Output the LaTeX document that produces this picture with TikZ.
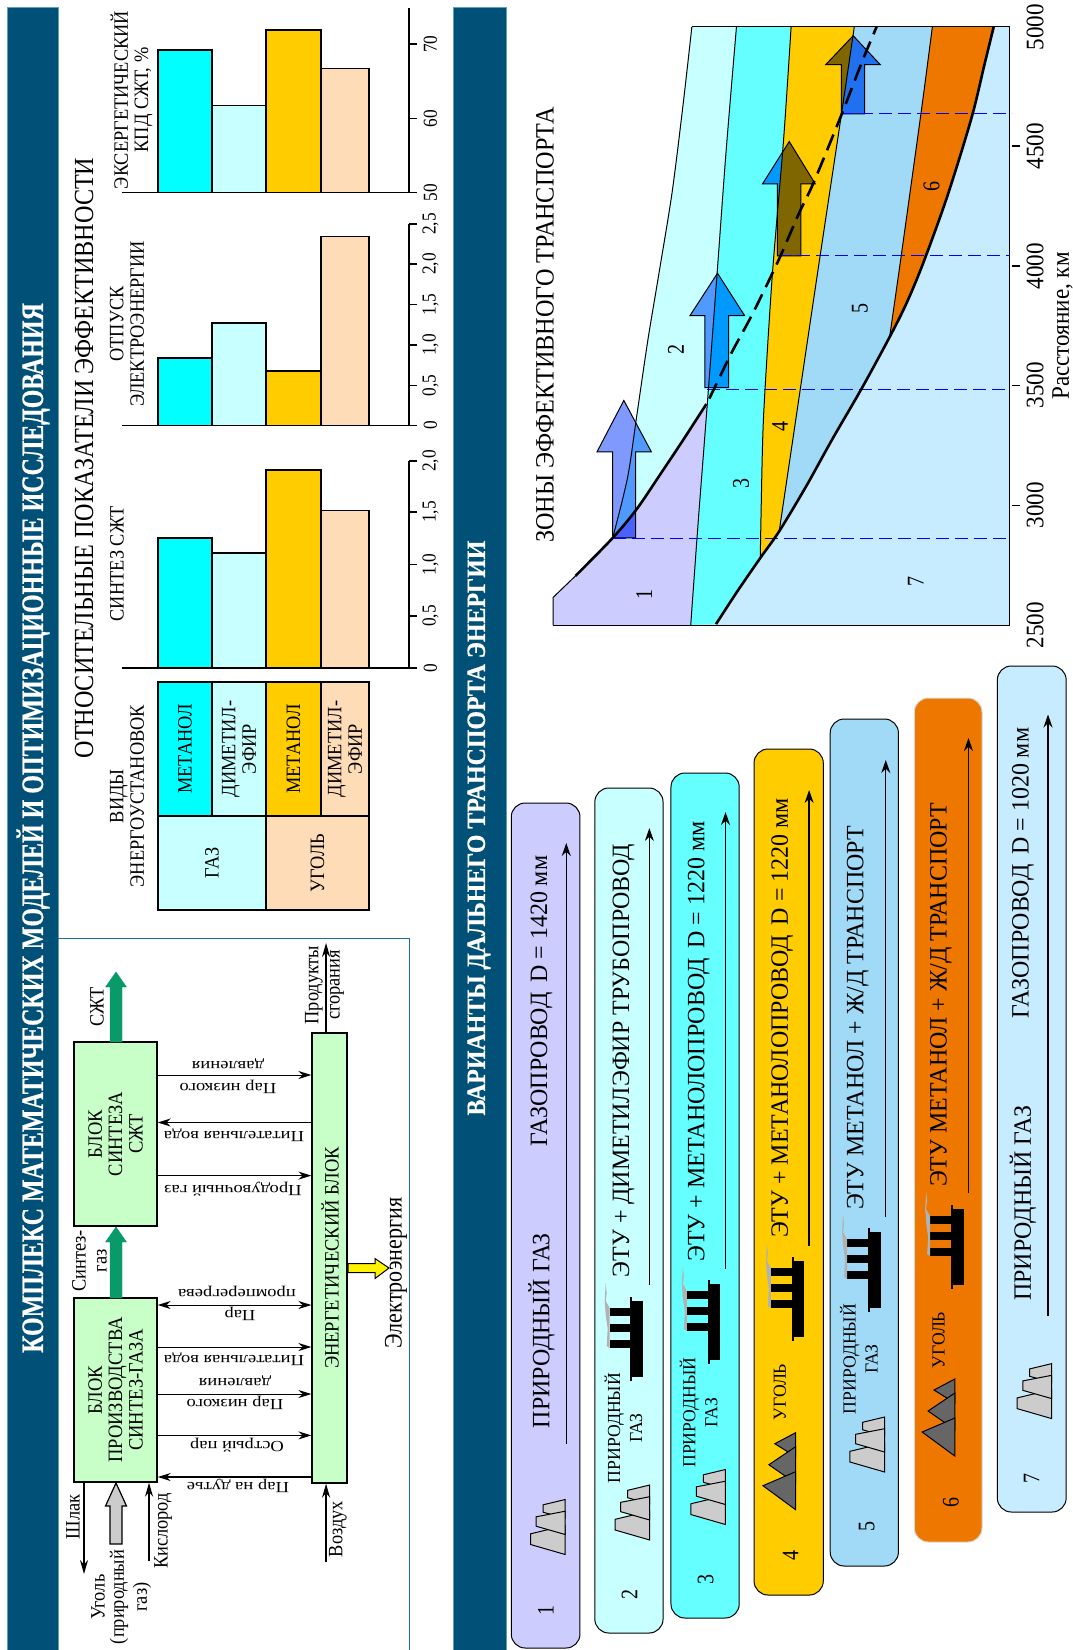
\documentclass[tikz,border=0pt]{standalone}
\usepackage{fontspec}
\setmainfont{Liberation Serif}
\newfontfamily\titlefont{Liberation Serif}[FakeBold=0.7]
\usetikzlibrary{arrows.meta}
\newcommand\fz[1]{\fontsize{#1}{#1}\selectfont}
\definecolor{band}{HTML}{005078}
\definecolor{bandedge}{HTML}{5F9DBD}
\definecolor{frameln}{HTML}{1F6F93}
\definecolor{blockg}{HTML}{C8FFC8}
\definecolor{arrowg}{HTML}{0A9A6A}
\definecolor{lav}{HTML}{CCCCFF}
\definecolor{pcyan}{HTML}{C8FFFF}
\definecolor{mcyan}{HTML}{66FFFF}
\definecolor{fcyan}{HTML}{00FFFF}
\definecolor{gold}{HTML}{FFCC00}
\definecolor{peach}{HTML}{FFDCB8}
\definecolor{sky}{HTML}{A0DAF6}
\definecolor{oran}{HTML}{EE7700}
\definecolor{pale}{HTML}{C8ECFF}
\tikzset{
  vt/.style={rotate=90,inner sep=0pt,align=center,text=black},
  ht/.style={rotate=180,inner sep=0pt,align=center,text=black},
  bl/.style={vt,draw=black,line width=1.3pt,fill=blockg},
  cell/.style={vt,draw=black,line width=1.2pt},
  con/.style={line width=1pt,-{Stealth[length=13pt,width=8pt]}},
  conn/.style={line width=1.3pt,-{Stealth[length=14pt,width=8pt]}},
  pill/.style={line width=1pt,draw=black,rounded corners=14pt},
  thin/.style={line width=1pt,draw=black},
  barr/.style={line width=1pt,draw=black},
  blued/.style={line width=1.3pt,draw=blue,dash pattern=on 13pt off 6pt},
  ga/.style={fill=black!20,draw=black,line width=1pt,line join=miter},
  coalt/.style={fill=black!60,draw=black,line width=1pt},
  axs/.style={line width=1.2pt,draw=black},
}
% small pictures
\newcommand\gasicon[2]{%
  \begin{scope}[shift={(#1,#2)}]
  \filldraw[ga] (0,0)--(-22.3,5.3)--(-22.3,12.7)--(0,19)--cycle;
  \filldraw[ga] (0,26)--(-35,34.3)--(-35,45)--(0,55)--cycle;
  \filldraw[ga] (0,11.7)--(-29.3,17.3)--(-29.3,26.7)--(0,35)--cycle;
  \end{scope}}
\newcommand\coalicon[2]{%
  \begin{scope}[shift={(#1,#2)}]
  \filldraw[coalt] (0,0)--(-21,11)--(0,24)--cycle;
  \filldraw[coalt] (0,14)--(-27,32)--(0,50.6)--cycle;
  \filldraw[coalt] (0,39)--(-33,53)--(0,77)--cycle;
  \end{scope}}
\newcommand\planticon[2]{%
  \begin{scope}[shift={(#1,#2)}]
  \fill[black] (0,0) rectangle (13,76);
  \fill[black] (0,-4) rectangle (2,80);
  \fill[black] (-21,7) rectangle (0,15);
  \fill[black] (-21,23) rectangle (0,31);
  \fill[black] (-21,39) rectangle (0,47);
  \fill[black!30] (-25,-18)--(-24,-8)--(-25,0)--(-21,7)--(-21,47)--(-24,45)--(-23,28)--(-25,14)--(-26,0)--cycle;
  \end{scope}}
\def\rSeven{(170,1400)--(170,1338)--(230,1290)--(330,1205)--(395,1140)--(460,1060)--(520,985)--(585,900)--(650,790)--(705,705)--(775,585)--(830,480)--(870,410)--(945,258)--(1000,140)--(1030,60)--(1398,60)--(1398,1400)--cycle}
\def\rOne{(170,1400)--(170,1338)--(230,1290)--(330,1205)--(395,1140)--(460,1060)--(520,985)--(585,900)--(560,1170)--(540,1400)--cycle}
\def\rTwo{(543,60)--(520,230)--(490,430)--(455,610)--(425,760)--(395,930)--(370,1070)--(330,1205)--(395,1140)--(460,1060)--(520,985)--(585,900)--(612,600)--(635,340)--(663,60)--cycle}
\def\rThree{(540,1400)--(560,1170)--(585,900)--(612,600)--(635,340)--(663,60)--(810,60)--(790,310)--(760,610)--(740,870)--(733,1000)--(727,1250)--(665,1325)--(608,1398)--cycle}
\def\rFour{(810,60)--(790,310)--(760,610)--(740,870)--(733,1000)--(727,1250)--(778,1190)--(835,870)--(885,590)--(945,258)--(980,60)--cycle}
\def\rFive{(980,60)--(945,258)--(885,590)--(835,870)--(778,1190)--(850,1090)--(920,985)--(1000,870)--(1075,755)--(1105,580)--(1160,250)--(1190,60)--cycle}
\def\rSix{(1190,60)--(1160,250)--(1105,580)--(1075,755)--(1120,680)--(1165,590)--(1230,440)--(1295,265)--(1330,145)--(1355,60)--cycle}
\def\arrA{(330,1205)--(330,1012)--(288,1012)--(360,897)--(434,1012)--(392,1012)--(392,1205)--cycle}
\def\arrB{(578,868)--(578,707)--(538,707)--(612,612)--(685,707)--(642,707)--(642,868)--cycle}
\def\arrC{(773,573)--(773,412)--(733,412)--(805,317)--(875,412)--(836,412)--(836,573)--cycle}
\def\arrD{(945,255)--(945,145)--(903,145)--(977,80)--(1050,145)--(1008,145)--(1008,255)--cycle}
\begin{document}
\begin{tikzpicture}[x=0.83333pt,y=-1pt,xscale=1.2,transform shape]
\useasboundingbox (0,0) rectangle (1073,1650);
\fill[white] (0,0) rectangle (1073,1650);
% bands
\filldraw[fill=band,draw=bandedge,line width=.8pt] (7,7) rectangle (58,1650);
\filldraw[fill=band,draw=bandedge,line width=.8pt] (453,7) rectangle (506,1650);
\node[vt,text=white,xscale=.923,font=\titlefont\fz{26}\bfseries] (title1) at (33,828) {КОМПЛЕКС МАТЕМАТИЧЕСКИХ МОДЕЛЕЙ И ОПТИМИЗАЦИОННЫЕ ИССЛЕДОВАНИЯ};
\node[vt,text=white,xscale=1.085,font=\titlefont\fz{22}\bfseries] (title2) at (479,828) {ВАРИАНТЫ ДАЛЬНЕГО ТРАНСПОРТА ЭНЕРГИИ};
% block diagram frame
\draw[frameln,line width=1pt] (58,938) -- (409,938) -- (409,1650);
\node[bl,minimum width=184pt,minimum height=69pt] (syn) at (115.5,1134) {};
\node[bl,minimum width=184pt,minimum height=69pt] (prod) at (115.5,1390) {};
\node[bl,minimum width=450pt,minimum height=29pt] (en) at (329.5,1258) {};
\tikzset{blt/.style={vt,xscale=1.09,font=\fz{17}}}
\node[blt] (synt) at (115.5,1134) {БЛОК\\СИНТЕЗА\\СЖТ};
\node[blt] (prodt) at (115.5,1390) {БЛОК\\ПРОИЗВОДСТВА\\СИНТЕЗ-ГАЗА};
\node[blt] (ent) at (330,1258) {ЭНЕРГЕТИЧЕСКИЙ БЛОК};
% green arrows
\coordinate (sjt) at (116,972);
\filldraw[arrowg] (110,1042)--(110,987)--(105.5,987)--(sjt)--(126.5,987)--(122,987)--(122,1042)--cycle;
\filldraw[arrowg] (110,1298)--(110,1242)--(105.5,1242)--(116,1227)--(126.5,1242)--(122,1242)--(122,1298)--cycle;
\filldraw[fill=black!20,draw=black,line width=1.2pt] (110,1544)--(110,1506)--(105.5,1506)--(116,1483)--(126.5,1506)--(122,1506)--(122,1544)--cycle;
\filldraw[fill=yellow,draw=black,line width=1pt] (348,1263.5)--(375,1263.5)--(375,1258.5)--(389,1268)--(375,1278.5)--(375,1272.5)--(348,1272.5)--cycle;
% connectors
\draw[con] (syn.south |- 0,1075) -- (en.north |- 0,1075);
\draw[con] (en.north |- 0,1122.5) -- (syn.south |- 0,1122.5);
\draw[con] (syn.south |- 0,1175.6) -- (en.north |- 0,1175.6);
\draw[line width=1pt,{Stealth[length=13pt,width=8pt]}-{Stealth[length=13pt,width=8pt]}] (prod.south |- 0,1305) -- (en.north |- 0,1305);
\draw[con] (prod.south |- 0,1347) -- (en.north |- 0,1347);
\draw[con] (prod.south |- 0,1394) -- (en.north |- 0,1394);
\draw[con] (prod.south |- 0,1435.4) -- (en.north |- 0,1435.4);
\draw[line width=1.3pt,-{Stealth[length=13pt,width=8pt]}] (en.north |- 0,1477) -- (prod.south |- 0,1477);
\coordinate (prodout) at (326,943);
\coordinate (airin) at (326,1562);
\coordinate (slagout) at (84,1574);
\coordinate (o2in) at (149,1561);
\draw[conn] (en.east -| prodout) -- (prodout);
\draw[conn] (airin) -- (en.west -| airin);
\draw[conn] (prod.west -| slagout) -- (slagout);
\draw[conn] (o2in) -- (prod.west -| o2in);
% block labels
\tikzset{lab/.style={ht,font=\fz{15.5}}}
\node[lab] (l1) at (228,1087) {Пар низкого};
\node[lab] (l1b) at (228,1064) {давления};
\node[lab] (l2) at (234,1135.5) {Питательная вода};
\node[lab] (l3) at (233,1189) {Продувочный газ};
\node[lab] (l4) at (240,1314) {Пар};
\node[lab] (l4b) at (237,1291.5) {промперегрева};
\node[lab] (l5) at (234,1359) {Питательная вода};
\node[lab] (l6) at (235,1403) {Пар низкого};
\node[lab] (l6b) at (235,1381) {давления};
\node[lab] (l7) at (237,1445) {Острый пар};
\node[lab] (l8) at (238,1486) {Пар на дутье};
\tikzset{vl/.style={vt,xscale=1.08,font=\fz{17}}}
\node[vt,xscale=1.05,font=\fz{21}] (el) at (396,1273) {Электроэнергия};
\node[vl] (pr1) at (314,985) {Продукты};
\node[vl] (pr2) at (337,985) {сгорания};
\node[vl] (air) at (338,1529) {Воздух};
\node[vl] (sl) at (73,1517) {Шлак};
\node[vl] (ox) at (163,1531) {Кислород};
\node[vl] (co1) at (98,1597) {Уголь};
\node[vl] (co2) at (119,1597) {(природный};
\node[vl] (co3) at (142,1597) {газ)};
\node[vl] (sg1) at (79,1261) {Синтез-};
\node[vl] (sg2) at (102,1261) {газ};
\node[vl] (sj) at (97,1007) {СЖТ};
% efficiency section
\node[vt,xscale=1.05,font=\fz{23}] (effh) at (84,458) {ОТНОСИТЕЛЬНЫЕ ПОКАЗАТЕЛИ ЭФФЕКТИВНОСТИ};
\node[vl] (kinds) at (127,796) {ВИДЫ\\ЭНЕРГОУСТАНОВОК};
\node[vl] (ch1) at (117,564) {СИНТЕЗ СЖТ};
\node[vl] (ch2) at (127,324) {ОТПУСК\\ЭЛЕКТРОЭНЕРГИИ};
\node[vl] (ch3) at (131.5,100) {ЭКСЕРГЕТИЧЕСКИЙ\\КПД СЖТ, \%};
% table
\tikzset{tab/.style={cell}}
\node[tab,fill=pcyan,minimum width=94pt,minimum height=90pt] (g) at (212,863) {};
\node[tab,fill=peach,minimum width=94pt,minimum height=85.83pt] (c) at (317.5,863) {};
\node[tab,fill=fcyan,minimum width=134pt,minimum height=45pt] (t1) at (185,749) {};
\node[tab,fill=pcyan,minimum width=134pt,minimum height=45pt] (t2) at (239,749) {};
\node[tab,fill=gold,minimum width=134pt,minimum height=45.83pt] (t3) at (293.5,749) {};
\node[tab,fill=peach,minimum width=134pt,minimum height=40pt] (t4) at (345,749) {};
\node[vl] (gt) at (212,863) {ГАЗ};
\node[vl] (ct) at (317.5,863) {УГОЛЬ};
\node[vl] (t1t) at (185,749) {МЕТАНОЛ};
\node[vl] (t2t) at (239,749) {ДИМЕТИЛ-\\ЭФИР};
\node[vl] (t3t) at (293.5,749) {МЕТАНОЛ};
\node[vl] (t4t) at (345,749) {ДИМЕТИЛ-\\ЭФИР};
% bars
\newcommand\bars[5]{%
  \filldraw[fill=fcyan,axs] (158,#1) rectangle (212,#2);
  \filldraw[fill=pcyan,axs] (212,#1) rectangle (266,#3);
  \filldraw[fill=gold,axs] (266,#1) rectangle (321,#4);
  \filldraw[fill=peach,axs] (321,#1) rectangle (369,#5);}
\bars{668}{538}{553}{470}{510.5}
\bars{425.5}{358}{323}{371}{236.5}
\bars{192.5}{50}{105.6}{30}{68.7}
\draw[axs] (122,668)--(409,668)--(409,461);
\draw[axs] (122,425.5)--(409,425.5)--(409,224);
\draw[axs] (122,192.5)--(409,192.5)--(409,8);
\tikzset{tk/.style={vt,xscale=1.05,font=\fz{16.5}}}
\foreach \yy/\ll [count=\ti] in {668/0,616/{0,5},564.5/{1,0},512/{1,5},461/{2,0},
                     425.5/0,385.5/{0,5},345/{1,0},304.6/{1,5},264/{2,0},224/{2,5},
                     192.5/50,118.5/60,44/70}{
  \draw[axs] (409,\yy) -- (417,\yy);
  \node[tk] (tick\ti) at (430.5,\yy) {\ll};
}
% zones chart
\begin{scope}[shift={(490,0)},x=0.30979pt,y=-0.44643pt]
\fill[pale] \rSeven;
\fill[lav] \rOne;
\fill[pcyan] \rTwo;
\fill[mcyan] \rThree;
\fill[gold] \rFour;
\fill[sky] \rFive;
\fill[oran] \rSix;
\draw[thin] (543,60)--(1398,60)--(1398,1400)--(170,1400);
% block arrows
\fill[fill={rgb,255:red,128;green,153;blue,255}] \arrA;
\begin{scope}\clip \rTwo; \fill[fill={rgb,255:red,80;green,153;blue,255}] \arrA; \end{scope}
\begin{scope}\clip \rOne; \fill[fill={rgb,255:red,74;green,96;blue,255}] \arrA; \end{scope}
\fill[fill={rgb,255:red,80;green,153;blue,255}] \arrB;
\begin{scope}\clip \rThree; \fill[fill={rgb,255:red,0;green,153;blue,255}] \arrB; \end{scope}
\fill[fill={rgb,255:red,0;green,153;blue,255}] \arrC;
\begin{scope}\clip \rFour; \fill[fill={rgb,255:red,128;green,102;blue,0}] \arrC; \end{scope}
\fill[fill={rgb,255:red,128;green,102;blue,0}] \arrD;
\begin{scope}\clip \rFive; \fill[fill={rgb,255:red,32;green,112;blue,240}] \arrD; \end{scope}
% thin boundaries
\draw[thin] (170,1400)--(170,1338)--(230,1290);
\draw[thin] plot[smooth] coordinates {(543,60)(520,230)(490,430)(455,610)(425,760)(395,930)(370,1070)(330,1205)};
\draw[thin] plot[smooth] coordinates {(540,1400)(560,1170)(585,900)(612,600)(635,340)(663,60)};
\draw[thin] plot[smooth] coordinates {(727,1250)(733,1000)(740,870)(760,610)(790,310)(810,60)};
\draw[thin] plot[smooth] coordinates {(778,1190)(835,870)(885,590)(945,258)(980,60)};
\draw[thin] plot[smooth] coordinates {(1075,755)(1105,580)(1160,250)(1190,60)};
\draw[barr] \arrA; \draw[barr] \arrB; \draw[barr] \arrC; \draw[barr] \arrD;
% blue dashed
\draw[blued] (330,1207)--(1398,1207);
\draw[blued] (585,872)--(1398,872);
\draw[blued] (775,573)--(1398,573);
\draw[blued] (945,255)--(1405,255);
% thick curves
\draw[line width=2.6pt] plot[smooth] coordinates {(230,1290)(330,1205)(395,1140)(460,1060)(520,985)(582,905)};
\draw[line width=2.6pt,dash pattern=on 17pt off 8pt] plot[smooth] coordinates {(590,893)(650,790)(705,705)(775,585)(830,480)(870,410)(945,258)(1000,140)(1040,60)};
\draw[line width=2.6pt] plot[smooth] coordinates {(608,1398)(665,1325)(727,1250)(778,1190)(850,1090)(920,985)(1000,870)(1075,755)(1120,680)(1165,590)(1230,440)(1295,265)(1330,145)(1355,60)};
% numbers
\tikzset{zn/.style={vt,font=\fz{20}}}
\node[zn] (z1) at (415,1332) {1};
\node[zn] (z2) at (500,782) {2};
\node[zn] (z3) at (675,1082) {3};
\node[zn] (z4) at (780,955) {4};
\node[zn] (z5) at (995,690) {5};
\node[zn] (z6) at (1188,418) {6};
\node[zn] (z7) at (1145,1302) {7};
\foreach \zy in {1132,863,596,327}{\draw[axs] (1405,\zy)--(1425,\zy);}
\end{scope}
\node[vt,xscale=1.1,font=\fz{22}] (zt) at (545,325) {ЗОНЫ ЭФФЕКТИВНОГО ТРАНСПОРТА};
\tikzset{ax/.style={vt,xscale=1.1,font=\fz{21}}}
\node[ax] (a1) at (1035,625) {2500};
\node[ax] (a2) at (1035,505) {3000};
\node[ax] (a3) at (1035,385) {3500};
\node[ax] (a4) at (1035,266) {4000};
\node[ax] (a5) at (1035,146) {4500};
\node[ax] (a6) at (1035,27) {5000};
\node[ax] (dist) at (1062.5,326) {Расстояние, км};
% pills and their contents
\begin{scope}[shift={(5.39,0)},xscale=.989]
\filldraw[pill,fill=lav] (511.5,803) rectangle (581,1648);
\filldraw[pill,fill=pcyan] (596,788) rectangle (665,1633);
\filldraw[pill,fill=mcyan] (673,773) rectangle (742,1618);
\filldraw[pill,fill=gold] (757,749) rectangle (827,1595);
\filldraw[pill,fill=sky] (834,719) rectangle (903,1566);
\filldraw[pill,fill=oran,draw=black!15] (919,698) rectangle (987.5,1542);
\filldraw[pill,fill=pale] (1003,666) rectangle (1072.6,1512);
% pill arrows
\foreach \xx/\ya/\yb [count=\pi] in {567/1444/843,651/1285/828,728/1269/812,812.5/1246/790,890/1217/760,973.6/1193/738,1054/1316/714.5}{
  \coordinate (pa\pi) at (\xx,\ya);
  \coordinate (pb\pi) at (\xx,\yb);
  \draw[line width=1.3pt,-{Stealth[length=13pt,width=9pt]}] (pa\pi) -- (pb\pi);
}
% icons
\gasicon{566}{1499.5}
\gasicon{651.5}{1485}
\gasicon{728}{1469.5}
\gasicon{889}{1417}
\gasicon{1058}{1363.6}
\coalicon{799}{1432.7}
\coalicon{960}{1379}
\planticon{632}{1301}
\planticon{710}{1284}
\planticon{795}{1261}
\planticon{872}{1232}
\planticon{956}{1209}
% pill text
\tikzset{pt/.style={vt,xscale=1.14,font=\fz{21}},ps/.style={vt,xscale=1.14,font=\fz{15.5}},pn/.style={vt,font=\fz{20}}}
\node[pt] (p1a) at (542,1330.6) {ПРИРОДНЫЙ ГАЗ};
\node[pt] (p1b) at (542,1001) {ГАЗОПРОВОД\, D = 1420 мм};
\node[pt] (p2b) at (625,1060.5) {ЭТУ + ДИМЕТИЛЭФИР ТРУБОПРОВОД};
\node[ps] (p2a) at (625,1428) {ПРИРОДНЫЙ\\[3pt]ГАЗ};
\node[pt] (p3b) at (701,1041.5) {ЭТУ + МЕТАНОЛОПРОВОД\, D = 1220 мм};
\node[ps] (p3a) at (701,1412.6) {ПРИРОДНЫЙ\\[3pt]ГАЗ};
\node[pt] (p4b) at (785.4,1018) {ЭТУ + МЕТАНОЛОПРОВОД\, D = 1220 мм};
\node[ps] (p4a) at (783,1392) {УГОЛЬ};
\node[pt] (p5b) at (862,1018) {ЭТУ МЕТАНОЛ + Ж/Д ТРАНСПОРТ};
\node[ps] (p5a) at (863,1359) {ПРИРОДНЫЙ\\[3pt]ГАЗ};
\node[pt] (p6b) at (946,995) {ЭТУ МЕТАНОЛ + Ж/Д ТРАНСПОРТ};
\node[ps] (p6a) at (943.5,1340) {УГОЛЬ};
\node[pt] (p7a) at (1029,1203) {ПРИРОДНЫЙ ГАЗ};
\node[pt] (p7b) at (1029,873) {ГАЗОПРОВОД\, D = 1020 мм};
\node[pn] (n1) at (546.5,1610) {1};
\node[pn] (n2) at (631,1594.5) {2};
\node[pn] (n3) at (708,1579) {3};
\node[pn] (n4) at (794,1555) {4};
\node[pn] (n5) at (871,1526) {5};
\node[pn] (n6) at (956,1502.6) {6};
\node[pn] (n7) at (1037.6,1478) {7};
\end{scope}
\end{tikzpicture}
\end{document}
